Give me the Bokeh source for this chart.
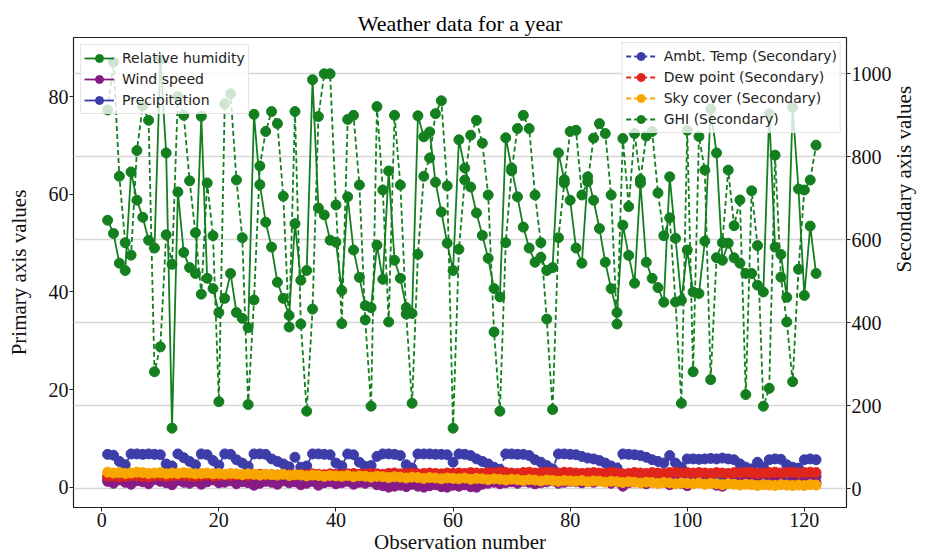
import math
from bokeh.plotting import figure
from bokeh.models import Range1d, LinearAxis, FixedTicker, Grid, Legend, LegendItem
from bokeh.embed import file_html
from bokeh.resources import INLINE

obs = list(range(1, 123))

rh = [54.7, 52.0, 45.9, 44.4, 64.6, 58.8, 55.3, 50.6, 49.0, 87.6,
      68.5, 12.1, 60.5, 48.1, 45.0, 43.8, 76.0, 42.8, 40.7, 35.8,
      38.7, 43.8, 35.8, 34.6, 32.7, 76.4, 62.0, 54.3, 49.2, 42.0,
      38.7, 35.2, 54.0, 42.4, 44.4, 83.5, 57.2, 55.8, 50.6, 50.2,
      40.3, 59.5, 48.6, 43.0, 37.2, 36.8, 49.6, 42.6, 64.8, 46.5,
      42.8, 36.8, 35.6, 76.1, 71.8, 72.8, 62.5, 56.4, 50.0, 44.4,
      71.2, 65.4, 61.5, 56.2, 51.6, 46.9, 40.7, 39.0, 71.6, 65.4,
      59.5, 53.3, 49.0, 46.1, 47.1, 44.4, 45.0, 68.5, 63.0, 58.8,
      49.0, 45.9, 63.6, 58.8, 53.0, 46.1, 40.7, 35.8, 53.7, 47.5,
      41.8, 62.3, 46.1, 42.8, 40.9, 37.9, 63.6, 51.0, 38.3, 48.6,
      40.0, 39.7, 50.4, 77.5, 68.5, 46.5, 50.0, 47.0, 45.9, 43.8,
      43.8, 41.4, 40.0, 76.5, 49.2, 47.7, 38.9, 77.8, 61.1, 39.3,
      53.5, 43.8]

wind = [1.2, 0.8, 1.5, 1.0, 0.6, 1.3, 1.1, 0.7, 1.6, 1.2,
        0.9, 0.5, 1.4, 1.0, 0.8, 1.2, 0.6, 1.1, 1.5, 0.9,
        1.0, 1.3, 0.7, 1.1, 0.9, 0.4, 0.8, 1.2, 1.0, 0.6,
        1.3, 0.9, 1.1, 0.5, 0.8, 1.2, 0.4, 0.9, 1.1, 0.7,
        0.9, 1.2, 0.6, 1.0, 0.8, 1.1, 0.5, 0.3, 0.0, 0.2,
        0.4, 0.1, 0.6, 0.2, 0.0, 0.3, 0.5, 0.1, 0.0, 0.4,
        0.2, 0.5, 0.1, 0.0, 0.6, 0.8, 1.0, 0.7, 0.9, 1.1,
        0.8, 1.2, 1.0, 0.7, 0.9, 1.1, 1.3, 0.8, 1.0, 1.2,
        1.1, 0.9, 1.3, 1.0, 1.4, 1.2, 0.8, 1.1, 0.2, 0.9,
        1.2, 1.0, 0.7, 1.1, 0.9, 1.3, 0.5, 1.0, 0.8, 0.3,
        1.0, 1.2, 0.9, 1.1, 0.4, 0.2, 0.9, 1.1, 0.8, 1.0,
        1.2, 0.9, 0.7, 1.0, 1.1, 0.8, 0.6, 0.9, 1.0, 0.8,
        1.1, 0.9]

precip = [1.8, 1.9, 1.7, 1.8, 2.0, 1.9, 1.8, 1.7, 1.9, 2.0,
          1.8, 1.9, 2.0, 1.9, 1.8, 1.8, 1.9, 2.0, 1.8, 1.9,
          2.0, 1.9, 2.0, 1.9, 1.9, 2.0, 2.1, 1.9, 2.0, 1.9,
          2.0, 2.0, 1.9, 2.0, 2.0, 2.1, 2.0, 2.0, 2.1, 2.0,
          2.0, 2.1, 2.1, 2.0, 2.1, 2.1, 2.0, 2.0, 2.1, 2.2,
          2.1, 2.1, 2.2, 2.1, 2.1, 2.2, 2.1, 2.1, 2.2, 2.1,
          2.2, 2.1, 2.2, 2.2, 2.1, 2.2, 2.2, 2.3, 2.2, 2.2,
          2.1, 2.2, 2.3, 2.2, 2.2, 2.3, 2.2, 2.2, 2.3, 2.2,
          2.2, 2.1, 2.2, 2.2, 2.2, 2.1, 2.2, 2.2, 2.1, 2.1,
          2.2, 2.2, 2.1, 2.2, 2.2, 2.1, 2.2, 2.3, 2.2, 2.2,
          2.2, 2.2, 2.2, 2.1, 2.2, 2.2, 2.1, 2.2, 2.2, 2.3,
          2.2, 2.1, 2.2, 2.2, 2.3, 2.2, 2.2, 2.3, 2.2, 2.2,
          2.3, 2.2]

ambt = [83, 81, 66, 58, 84, 84, 83, 84, 83, 82,
        60, 55, 84, 75, 66, 58, 84, 82, 68, 57,
        84, 83, 70, 62, 54, 84, 84, 83, 72, 66,
        60, 53, 76, 52, 55, 84, 84, 83, 82, 62,
        55, 84, 82, 64, 54, 56, 78, 84, 84, 83,
        80, 58, 50, 84, 84, 84, 83, 83, 82, 64,
        84, 83, 80, 72, 66, 60, 52, 47, 84, 84,
        83, 83, 80, 70, 64, 56, 48, 84, 84, 83,
        82, 78, 74, 72, 68, 62, 55, 50, 84, 83,
        82, 80, 76, 70, 66, 62, 80, 62, 52, 72,
        72, 71, 72, 73, 72, 74, 72, 70, 60, 52,
        48, 64, 52, 70, 72, 71, 58, 52, 50, 70,
        72, 70]

dew = [30, 31, 29, 30, 32, 31, 30, 29, 31, 32,
       30, 31, 33, 32, 31, 30, 32, 33, 31, 32,
       33, 32, 34, 33, 32, 34, 35, 33, 34, 33,
       35, 34, 33, 35, 34, 36, 35, 34, 36, 35,
       34, 36, 37, 35, 36, 37, 36, 35, 37, 38,
       36, 37, 38, 36, 37, 38, 37, 36, 38, 37,
       38, 37, 39, 38, 37, 39, 38, 40, 39, 38,
       37, 39, 40, 38, 39, 40, 39, 38, 40, 39,
       38, 37, 38, 39, 38, 37, 39, 38, 36, 37,
       39, 38, 37, 39, 38, 37, 39, 40, 38, 39,
       38, 39, 38, 37, 39, 38, 37, 39, 38, 40,
       39, 37, 38, 39, 40, 38, 39, 40, 38, 39,
       40, 39]

sky = [40, 38, 39, 37, 38, 40, 39, 37, 38, 39,
       36, 38, 37, 39, 38, 36, 37, 38, 36, 37,
       35, 37, 36, 34, 36, 35, 33, 35, 34, 33,
       35, 32, 34, 33, 31, 33, 32, 30, 32, 31,
       30, 32, 29, 31, 30, 28, 30, 29, 27, 29,
       28, 26, 28, 27, 25, 27, 26, 24, 26, 25,
       24, 26, 23, 25, 24, 22, 24, 23, 21, 23,
       22, 20, 22, 21, 19, 21, 20, 18, 20, 19,
       18, 20, 17, 19, 18, 16, 18, 17, 15, 17,
       16, 14, 16, 15, 13, 15, 14, 12, 14, 13,
       12, 14, 11, 13, 12, 10, 12, 11, 9, 11,
       10, 8, 10, 9, 8, 10, 9, 8, 9, 8,
       10, 9]

ghi = [913, 1028, 753, 593, 563, 815, 923, 888, 282, 342,
       612, 541, 945, 900, 742, 617, 469, 737, 610, 210,
       928, 952, 744, 605, 203, 455, 778, 861, 909, 880,
       705, 390, 909, 397, 187, 433, 897, 1000, 1000, 684,
       398, 890, 900, 732, 407, 199, 921, 720, 402, 900,
       732, 421, 206, 565, 753, 797, 904, 935, 730, 146,
       577, 744, 852, 888, 833, 708, 378, 187, 593, 766,
       868, 900, 868, 708, 593, 409, 191, 605, 737, 861,
       864, 708, 740, 845, 880, 856, 708, 397, 844, 680,
       856, 745, 850, 861, 713, 610, 653, 450, 206, 864,
       282, 849, 768, 263, 557, 593, 768, 634, 696, 227,
       718, 586, 199, 242, 804, 510, 402, 258, 529, 720,
       744, 828]

x_ticks = [0, 20, 40, 60, 80, 100, 120]
prim_ticks = [0, 20, 40, 60, 80]
sec_ticks = [0, 200, 400, 600, 800, 1000]

GREEN = "#137f1f"
PURPLE = "#861a86"
BLUE = "#3d3daa"
RED = "#e0261c"
ORANGE = "#f8a600"
SERIF = "Liberation Serif"

p = figure(width=930, height=558, output_backend="svg", toolbar_location=None,
           x_range=Range1d(-4.83, 127.2), y_range=Range1d(-4.16, 92.15),
           min_border_left=73, min_border_right=78, min_border_top=37,
           min_border_bottom=51, title="Weather data for a year")
p.extra_y_ranges = {"sec": Range1d(-45.1, 1087.5)}

p.title.align = "center"
p.title.vertical_align = "top"
p.title.text_font = SERIF
p.title.text_font_size = "22px"
p.title.text_font_style = "normal"
p.title.text_color = "black"
p.title.standoff = 0

p.xgrid.visible = False
p.ygrid.visible = False
p.outline_line_color = "#222222"
p.outline_line_width = 1.2

def style_axis(ax, ticks, label, standoff):
    ax.ticker = FixedTicker(ticks=ticks)
    ax.minor_tick_line_color = None
    ax.major_tick_in = 0
    ax.major_tick_out = 4
    ax.major_tick_line_color = "#222222"
    ax.axis_line_color = None
    ax.major_label_text_font = SERIF
    ax.major_label_text_font_size = "20px"
    ax.major_label_text_color = "#111111"
    ax.major_label_standoff = 1
    ax.axis_label = label
    ax.axis_label_standoff = standoff
    ax.axis_label_text_font = SERIF
    ax.axis_label_text_font_size = "21px"
    ax.axis_label_text_font_style = "normal"
    ax.axis_label_text_color = "#111111"

style_axis(p.xaxis[0], x_ticks, "Observation number", 0)
style_axis(p.yaxis[0], prim_ticks, "Primary axis values", 15)

sec_axis = LinearAxis(y_range_name="sec")
style_axis(sec_axis, sec_ticks, "Secondary axis values", 9)
try:
    sec_axis.axis_label_orientation = math.pi / 2
except Exception:
    pass
p.add_layout(sec_axis, "right")

grid = Grid(dimension=1, ticker=FixedTicker(ticks=sec_ticks), y_range_name="sec",
            grid_line_color="#d6d6d6", grid_line_width=1.5)
p.add_layout(grid)

MS = 10
DASH = "5 3"

# primary axis series
pr_l = p.line(obs, precip, line_color=BLUE, line_width=1.8)
pr_s = p.scatter(obs, precip, size=MS, fill_color=BLUE, line_color=BLUE)
wi_l = p.line(obs, wind, line_color=PURPLE, line_width=1.8)
wi_s = p.scatter(obs, wind, size=MS, fill_color=PURPLE, line_color=PURPLE)
rh_l = p.line(obs, rh, line_color=GREEN, line_width=1.8)
rh_s = p.scatter(obs, rh, size=MS, fill_color=GREEN, line_color=GREEN)

# secondary axis series
am_l = p.line(obs, ambt, line_color=BLUE, line_width=1.8, line_dash=DASH, y_range_name="sec")
am_s = p.scatter(obs, ambt, size=MS, fill_color=BLUE, line_color=BLUE, y_range_name="sec")
de_l = p.line(obs, dew, line_color=RED, line_width=1.8, line_dash=DASH, y_range_name="sec")
de_s = p.scatter(obs, dew, size=MS, fill_color=RED, line_color=RED, y_range_name="sec")
sk_l = p.line(obs, sky, line_color=ORANGE, line_width=1.8, line_dash=DASH, y_range_name="sec")
sk_s = p.scatter(obs, sky, size=MS, fill_color=ORANGE, line_color=ORANGE, y_range_name="sec")
gh_l = p.line(obs, ghi, line_color=GREEN, line_width=1.8, line_dash=DASH, y_range_name="sec")
gh_s = p.scatter(obs, ghi, size=MS, fill_color=GREEN, line_color=GREEN, y_range_name="sec")

def make_legend(items, loc, margin):
    return Legend(items=items, location=loc, margin=margin, padding=3, spacing=1,
                  label_text_font="DejaVu Sans", label_text_font_size="14px",
                  label_text_color="#222222", glyph_width=30, glyph_height=20,
                  label_height=20, label_standoff=8,
                  background_fill_color="white", background_fill_alpha=0.8,
                  border_line_color="#cccccc", border_line_width=1)

leg1 = make_legend([
    LegendItem(label="Relative humidity", renderers=[rh_l, rh_s]),
    LegendItem(label="Wind speed", renderers=[wi_l, wi_s]),
    LegendItem(label="Precipitation", renderers=[pr_l, pr_s]),
], "top_left", 7)
leg2 = make_legend([
    LegendItem(label="Ambt. Temp (Secondary)", renderers=[am_l, am_s]),
    LegendItem(label="Dew point (Secondary)", renderers=[de_l, de_s]),
    LegendItem(label="Sky cover (Secondary)", renderers=[sk_l, sk_s]),
    LegendItem(label="GHI (Secondary)", renderers=[gh_l, gh_s]),
], "top_right", 5)
p.add_layout(leg1)
p.add_layout(leg2)

open("out.html", "w").write(file_html(p, INLINE))
